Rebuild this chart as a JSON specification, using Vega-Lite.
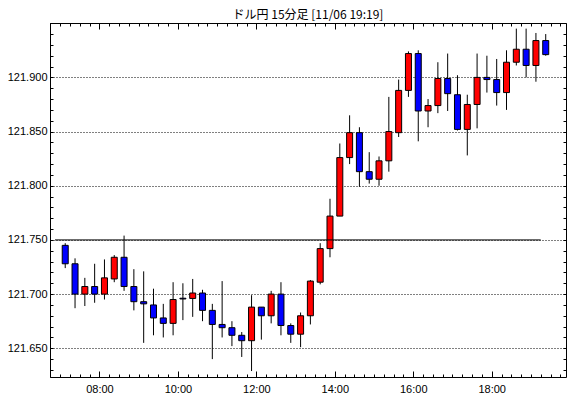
{
  "$schema": "https://vega.github.io/schema/vega-lite/v6.json",
  "autosize": "none",
  "padding": {"left": 50, "top": 23, "right": 4, "bottom": 21},
  "width": 516,
  "height": 354,
  "background": "white",
  "title": {"text": "ドル円 15分足 [11/06 19:19]", "font": "Noto Sans CJK JP", "fontSize": 12, "fontWeight": "normal", "color": "black", "anchor": "middle", "offset": -5},
  "config": {
    "view": {"stroke": "black", "strokeWidth": 1},
    "axis": {"domain": false, "title": null, "labelFont": "Liberation Sans", "labelFontSize": 11, "labelColor": "black", "tickColor": "black", "tickWidth": 1, "labelOverlap": false, "labelFlush": false, "labelBound": false}
  },
  "datasets": {
    "candles": [
      {"t": "2015-11-06T07:00", "o": 121.745, "h": 121.747, "l": 121.724, "c": 121.728},
      {"t": "2015-11-06T07:15", "o": 121.728, "h": 121.733, "l": 121.687, "c": 121.700},
      {"t": "2015-11-06T07:30", "o": 121.700, "h": 121.715, "l": 121.689, "c": 121.707},
      {"t": "2015-11-06T07:45", "o": 121.707, "h": 121.728, "l": 121.692, "c": 121.700},
      {"t": "2015-11-06T08:00", "o": 121.700, "h": 121.732, "l": 121.695, "c": 121.715},
      {"t": "2015-11-06T08:15", "o": 121.714, "h": 121.736, "l": 121.711, "c": 121.734},
      {"t": "2015-11-06T08:30", "o": 121.734, "h": 121.754, "l": 121.703, "c": 121.707},
      {"t": "2015-11-06T08:45", "o": 121.707, "h": 121.723, "l": 121.685, "c": 121.693},
      {"t": "2015-11-06T09:00", "o": 121.693, "h": 121.721, "l": 121.655, "c": 121.691},
      {"t": "2015-11-06T09:15", "o": 121.690, "h": 121.705, "l": 121.662, "c": 121.678},
      {"t": "2015-11-06T09:30", "o": 121.678, "h": 121.691, "l": 121.660, "c": 121.673},
      {"t": "2015-11-06T09:45", "o": 121.673, "h": 121.711, "l": 121.662, "c": 121.695},
      {"t": "2015-11-06T10:00", "o": 121.6962, "h": 121.710, "l": 121.676, "c": 121.6955},
      {"t": "2015-11-06T10:15", "o": 121.696, "h": 121.714, "l": 121.679, "c": 121.701},
      {"t": "2015-11-06T10:30", "o": 121.701, "h": 121.704, "l": 121.675, "c": 121.685},
      {"t": "2015-11-06T10:45", "o": 121.685, "h": 121.691, "l": 121.640, "c": 121.672},
      {"t": "2015-11-06T11:00", "o": 121.672, "h": 121.712, "l": 121.660, "c": 121.669},
      {"t": "2015-11-06T11:15", "o": 121.669, "h": 121.675, "l": 121.652, "c": 121.662},
      {"t": "2015-11-06T11:30", "o": 121.662, "h": 121.665, "l": 121.642, "c": 121.657},
      {"t": "2015-11-06T11:45", "o": 121.657, "h": 121.699, "l": 121.629, "c": 121.688},
      {"t": "2015-11-06T12:00", "o": 121.688, "h": 121.688, "l": 121.658, "c": 121.680},
      {"t": "2015-11-06T12:15", "o": 121.680, "h": 121.703, "l": 121.673, "c": 121.700},
      {"t": "2015-11-06T12:30", "o": 121.700, "h": 121.711, "l": 121.662, "c": 121.671},
      {"t": "2015-11-06T12:45", "o": 121.671, "h": 121.673, "l": 121.655, "c": 121.663},
      {"t": "2015-11-06T13:00", "o": 121.663, "h": 121.683, "l": 121.651, "c": 121.680},
      {"t": "2015-11-06T13:15", "o": 121.680, "h": 121.713, "l": 121.672, "c": 121.712},
      {"t": "2015-11-06T13:30", "o": 121.711, "h": 121.747, "l": 121.709, "c": 121.742},
      {"t": "2015-11-06T13:45", "o": 121.742, "h": 121.788, "l": 121.734, "c": 121.772},
      {"t": "2015-11-06T14:00", "o": 121.772, "h": 121.839, "l": 121.772, "c": 121.826},
      {"t": "2015-11-06T14:15", "o": 121.826, "h": 121.865, "l": 121.820, "c": 121.849},
      {"t": "2015-11-06T14:30", "o": 121.849, "h": 121.854, "l": 121.799, "c": 121.813},
      {"t": "2015-11-06T14:45", "o": 121.813, "h": 121.831, "l": 121.802, "c": 121.806},
      {"t": "2015-11-06T15:00", "o": 121.806, "h": 121.827, "l": 121.800, "c": 121.823},
      {"t": "2015-11-06T15:15", "o": 121.823, "h": 121.882, "l": 121.813, "c": 121.850},
      {"t": "2015-11-06T15:30", "o": 121.849, "h": 121.898, "l": 121.845, "c": 121.888},
      {"t": "2015-11-06T15:45", "o": 121.888, "h": 121.924, "l": 121.882, "c": 121.922},
      {"t": "2015-11-06T16:00", "o": 121.922, "h": 121.925, "l": 121.841, "c": 121.869},
      {"t": "2015-11-06T16:15", "o": 121.869, "h": 121.880, "l": 121.854, "c": 121.874},
      {"t": "2015-11-06T16:30", "o": 121.874, "h": 121.914, "l": 121.867, "c": 121.899},
      {"t": "2015-11-06T16:45", "o": 121.899, "h": 121.922, "l": 121.869, "c": 121.885},
      {"t": "2015-11-06T17:00", "o": 121.884, "h": 121.902, "l": 121.851, "c": 121.852},
      {"t": "2015-11-06T17:15", "o": 121.852, "h": 121.884, "l": 121.828, "c": 121.875},
      {"t": "2015-11-06T17:30", "o": 121.875, "h": 121.922, "l": 121.853, "c": 121.900},
      {"t": "2015-11-06T17:45", "o": 121.900, "h": 121.920, "l": 121.886, "c": 121.898},
      {"t": "2015-11-06T18:00", "o": 121.898, "h": 121.917, "l": 121.874, "c": 121.886},
      {"t": "2015-11-06T18:15", "o": 121.886, "h": 121.925, "l": 121.870, "c": 121.914},
      {"t": "2015-11-06T18:30", "o": 121.914, "h": 121.945, "l": 121.911, "c": 121.926},
      {"t": "2015-11-06T18:45", "o": 121.926, "h": 121.945, "l": 121.900, "c": 121.911},
      {"t": "2015-11-06T19:00", "o": 121.911, "h": 121.941, "l": 121.896, "c": 121.934},
      {"t": "2015-11-06T19:15", "o": 121.934, "h": 121.940, "l": 121.920, "c": 121.921}
    ],
    "reference": [
      {"level": 121.75, "start": "2015-11-06T06:52", "end": "2015-11-06T19:15"}
    ]
  },
  "resolve": {"axis": {"x": "independent", "y": "independent"}},
  "layer": [
    {
      "data": {"name": "candles"},
      "mark": {"type": "rule", "color": "black", "strokeWidth": 1, "clip": true, "xOffset": 5},
      "encoding": {
        "x": {
          "field": "t", "type": "temporal",
          "scale": {"domain": [{"year": 2015, "month": 11, "date": 6, "hours": 6, "minutes": 52}, {"year": 2015, "month": 11, "date": 6, "hours": 19, "minutes": 46}]},
          "axis": {
            "orient": "bottom",
            "tickCount": 52,
            "labels": false,
            "tickSize": -3,
            "grid": false
          }
        },
        "y": {
          "field": "l", "type": "quantitative",
          "scale": {"domain": [121.6235, 121.9502], "zero": false, "nice": false},
          "axis": {
            "orient": "left",
            "values": [121.63, 121.64, 121.65, 121.66, 121.67, 121.68, 121.69, 121.70, 121.71, 121.72, 121.73, 121.74, 121.75, 121.76, 121.77, 121.78, 121.79, 121.80, 121.81, 121.82, 121.83, 121.84, 121.85, 121.86, 121.87, 121.88, 121.89, 121.90, 121.91, 121.92, 121.93, 121.94, 121.95],
            "labelExpr": "abs(round(datum.value * 1000) % 50) == 0 && datum.value < 121.94 ? format(datum.value, '.3f') : ''",
            "tickSize": -3,
            "labelPadding": 6,
            "grid": true,
            "gridColor": "black",
            "gridDash": [1, 2],
            "gridWidth": 1,
            "gridOpacity": {"condition": {"test": "abs(round(datum.value * 1000) % 50) == 0", "value": 1}, "value": 0}
          }
        },
        "y2": {"field": "h"}
      }
    },
    {
      "data": {"name": "candles"},
      "mark": {"type": "bar", "width": 6, "stroke": "black", "strokeWidth": 1, "clip": true, "xOffset": 5},
      "encoding": {
        "x": {
          "field": "t", "type": "temporal",
          "scale": {"domain": [{"year": 2015, "month": 11, "date": 6, "hours": 6, "minutes": 52}, {"year": 2015, "month": 11, "date": 6, "hours": 19, "minutes": 46}]},
          "axis": {
            "orient": "top",
            "tickCount": 52,
            "labels": false,
            "tickSize": -3,
            "grid": false
          }
        },
        "y": {
          "field": "o", "type": "quantitative",
          "scale": {"domain": [121.6235, 121.9502], "zero": false, "nice": false},
          "axis": {
            "orient": "right",
            "values": [121.63, 121.64, 121.65, 121.66, 121.67, 121.68, 121.69, 121.70, 121.71, 121.72, 121.73, 121.74, 121.75, 121.76, 121.77, 121.78, 121.79, 121.80, 121.81, 121.82, 121.83, 121.84, 121.85, 121.86, 121.87, 121.88, 121.89, 121.90, 121.91, 121.92, 121.93, 121.94, 121.95],
            "labels": false,
            "tickSize": -3,
            "grid": false
          }
        },
        "y2": {"field": "c"},
        "color": {"condition": {"test": "datum.c > datum.o", "value": "#ff0000"}, "value": "#0000ff"}
      }
    },
    {
      "data": {"name": "reference"},
      "mark": {"type": "rule", "color": "black", "strokeWidth": 1, "clip": true},
      "encoding": {
        "x": {
          "field": "start", "type": "temporal",
          "scale": {"domain": [{"year": 2015, "month": 11, "date": 6, "hours": 6, "minutes": 52}, {"year": 2015, "month": 11, "date": 6, "hours": 19, "minutes": 46}]},
          "axis": {
            "orient": "bottom",
            "values": [{"year": 2015, "month": 11, "date": 6, "hours": 8}, {"year": 2015, "month": 11, "date": 6, "hours": 10}, {"year": 2015, "month": 11, "date": 6, "hours": 12}, {"year": 2015, "month": 11, "date": 6, "hours": 14}, {"year": 2015, "month": 11, "date": 6, "hours": 16}, {"year": 2015, "month": 11, "date": 6, "hours": 18}],
            "format": "%H:%M",
            "tickSize": -6,
            "labelPadding": 12,
            "grid": false
          }
        },
        "x2": {"field": "end"},
        "y": {"field": "level", "type": "quantitative", "scale": {"domain": [121.6235, 121.9502], "zero": false, "nice": false}, "axis": null}
      }
    },
    {
      "data": {"name": "reference"},
      "mark": {"type": "rule", "color": "black", "strokeOpacity": 0},
      "encoding": {
        "x": {
          "field": "start", "type": "temporal",
          "scale": {"domain": [{"year": 2015, "month": 11, "date": 6, "hours": 6, "minutes": 52}, {"year": 2015, "month": 11, "date": 6, "hours": 19, "minutes": 46}]},
          "axis": {
            "orient": "top",
            "values": [{"year": 2015, "month": 11, "date": 6, "hours": 8}, {"year": 2015, "month": 11, "date": 6, "hours": 10}, {"year": 2015, "month": 11, "date": 6, "hours": 12}, {"year": 2015, "month": 11, "date": 6, "hours": 14}, {"year": 2015, "month": 11, "date": 6, "hours": 16}, {"year": 2015, "month": 11, "date": 6, "hours": 18}],
            "labels": false,
            "tickSize": -6,
            "grid": false
          }
        },
        "x2": {"field": "end"},
        "y": {"field": "level", "type": "quantitative", "scale": {"domain": [121.6235, 121.9502], "zero": false, "nice": false}, "axis": null}
      }
    }
  ]
}
